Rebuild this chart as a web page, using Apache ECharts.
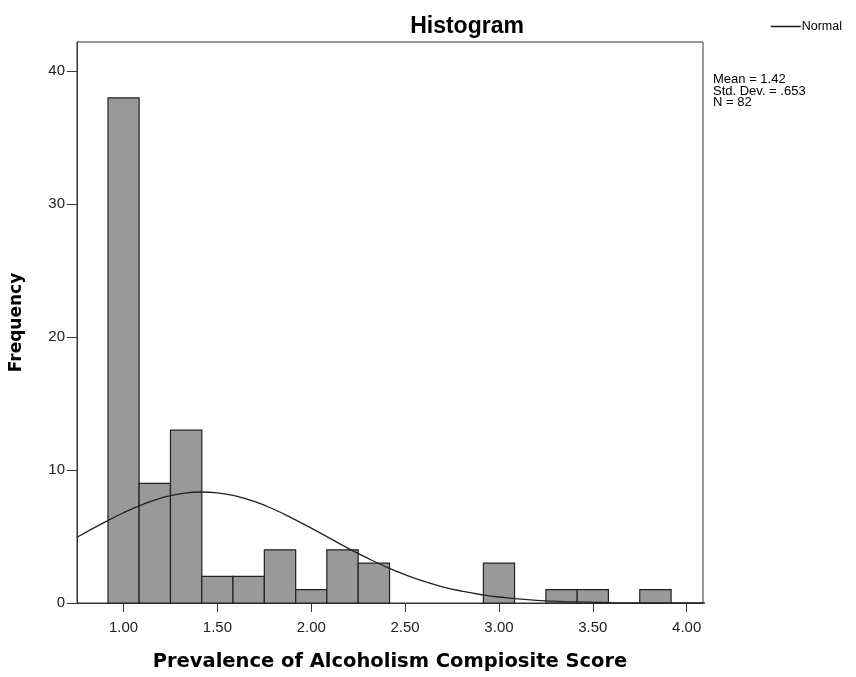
<!DOCTYPE html>
<html>
<head>
<meta charset="utf-8">
<script src="https://cdn.jsdelivr.net/npm/echarts@6/dist/echarts.min.js"></script>
<style>html,body{margin:0;padding:0;background:#fff;}#c{width:856px;height:677px;}</style>
</head>
<body>
<div id="c"></div>
<script>
// Histogram bins (lower / upper edges) and frequencies
const binLow  = [0.917, 1.083, 1.250, 1.417, 1.583, 1.750, 1.917, 2.083, 2.250, 2.917, 3.250, 3.417, 3.750];
const binHigh = [1.083, 1.250, 1.417, 1.583, 1.750, 1.917, 2.083, 2.250, 2.417, 3.083, 3.417, 3.583, 3.917];
const counts  = [38, 9, 13, 2, 2, 4, 1, 4, 3, 3, 1, 1, 1];

// Normal curve
const normX = [0.75, 0.9, 1.0, 1.1, 1.2, 1.3, 1.42, 1.5, 1.6, 1.7, 1.8, 1.9, 2.0, 2.1, 2.2, 2.3, 2.4, 2.5, 2.6, 2.7, 2.8, 2.9, 3.0, 3.2, 3.4, 3.6, 3.8, 4.0, 4.1];
const normY = [4.93, 6.08, 6.79, 7.40, 7.89, 8.21, 8.35, 8.29, 8.04, 7.62, 7.05, 6.37, 5.63, 4.86, 4.09, 3.37, 2.71, 2.13, 1.63, 1.22, 0.90, 0.64, 0.45, 0.20, 0.08, 0.03, 0.01, 0.003, 0.001];

// Tick labels
const xTicks = [1.00, 1.50, 2.00, 2.50, 3.00, 3.50, 4.00];
const yTicks = [0, 10, 20, 30, 40];

const statsLines = ['Mean = 1.42', 'Std. Dev. = .653', 'N = 82'];

const histData = binLow.map((lo, i) => [lo, binHigh[i], counts[i]]);
const curveData = normX.map((x, i) => [x, normY[i]]);

const chart = echarts.init(document.getElementById('c'), null, {renderer: 'canvas'});
chart.setOption({
  animation: false,
  backgroundColor: '#fff',
  title: {
    text: 'Histogram',
    left: 462, top: 10, textAlign: 'center',
    textStyle: {fontFamily: 'Liberation Sans', fontWeight: 'bold', fontSize: 23, color: '#000'}
  },
  legend: {
    data: [{name: 'Normal', icon: 'path://M0,0 H30 V1.6 H0 Z'}],
    right: 9, top: 15,
    itemWidth: 30, itemHeight: 2,
    textStyle: {fontFamily: 'Liberation Sans', fontSize: 12.5, color: '#000', padding: [0,0,0,-4]}
  },
  graphic: [{
    type: 'text', left: 713, top: 73,
    style: {text: statsLines.join('\n'), font: '13px "Liberation Sans"', fill: '#000', lineHeight: 11.5}
  }],
  grid: {
    left: 76, top: 42, width: 627, height: 571,
    show: true, borderColor: '#333', borderWidth: 1, backgroundColor: 'transparent'
  },
  xAxis: {
    type: 'value', min: 0.752, max: 4.087,
    name: 'Prevalence of Alcoholism Compiosite Score',
    nameLocation: 'middle', nameGap: 49,
    nameTextStyle: {fontFamily: 'DejaVu Sans', fontWeight: 'bold', fontSize: 19.5, color: '#000'},
    axisLine: {show: true, lineStyle: {color: '#333', width: 1}},
    axisTick: {show: true, length: 9, customValues: xTicks, lineStyle: {color: '#333'}},
    axisLabel: {customValues: xTicks, formatter: v => v.toFixed(2), margin: 17,
      fontFamily: 'Liberation Sans', fontSize: 15, color: '#222'},
    splitLine: {show: false}
  },
  yAxis: {
    type: 'value', min: 0, max: 42.2,
    name: 'Frequency',
    nameLocation: 'middle', nameGap: 52, nameRotate: 90,
    nameTextStyle: {fontFamily: 'DejaVu Sans', fontWeight: 'bold', fontSize: 17, color: '#000'},
    axisLine: {show: true, lineStyle: {color: '#333', width: 1}},
    axisTick: {show: true, length: 10, customValues: yTicks, lineStyle: {color: '#333'}},
    axisLabel: {customValues: yTicks, margin: 12, fontFamily: 'Liberation Sans', fontSize: 15, color: '#222'},
    splitLine: {show: false}
  },
  series: [{
    type: 'custom',
    name: 'Histogram',
    data: histData,
    encode: {x: [0, 1], y: 2},
    renderItem: function (params, api) {
      const p0 = api.coord([api.value(0), api.value(2)]);
      const p1 = api.coord([api.value(1), 0]);
      return {
        type: 'rect',
        shape: {x: p0[0], y: p0[1], width: p1[0] - p0[0], height: p1[1] - p0[1]},
        style: {fill: '#999999', stroke: '#222', lineWidth: 1.2}
      };
    },
    z: 2
  }, {
    type: 'line',
    name: 'Normal',
    data: curveData,
    smooth: true,
    showSymbol: false, symbol: 'none',
    clip: true,
    lineStyle: {color: '#222', width: 1.3},
    itemStyle: {color: '#222'},
    z: 3
  }]
});
</script>
</body>
</html>
